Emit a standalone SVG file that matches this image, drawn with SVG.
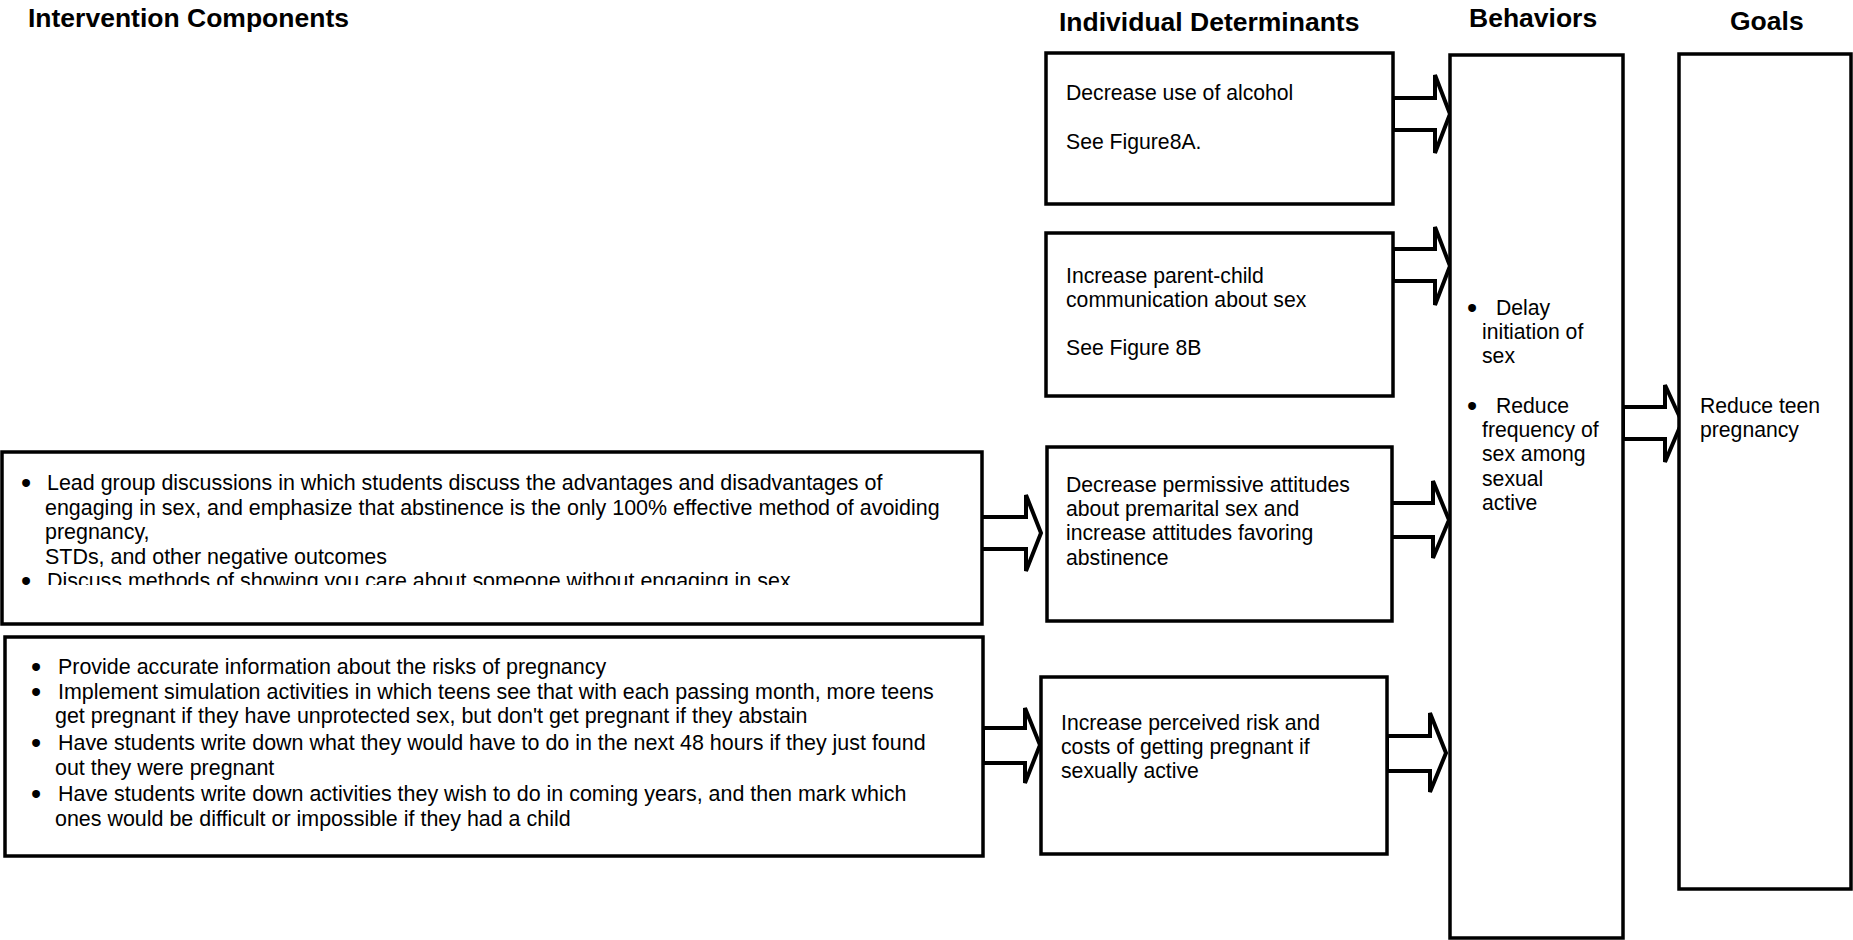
<svg xmlns="http://www.w3.org/2000/svg" width="1853" height="940" viewBox="0 0 1853 940">
  <style>
    .box { fill: #ffffff; stroke: #000000; stroke-width: 3.5; }
    .arrow { fill: #ffffff; stroke: #000000; stroke-width: 4; stroke-linejoin: miter; }
    .hdr { font-family: "Liberation Sans", Arial, sans-serif; font-weight: bold; font-size: 26.5px; fill: #000000; }
    .txt { font-family: "Liberation Sans", Arial, sans-serif; font-size: 21.2px; fill: #000000; }
    .wide { font-size: 21.45px; }
    .bul { font-family: "Liberation Sans", Arial, sans-serif; font-size: 29px; fill: #000000; }
  </style>
  <defs>
    <clipPath id="clipStrategies1">
      <rect x="3" y="454" width="977" height="131"/>
    </clipPath>
  </defs>
  <rect x="0" y="0" width="1853" height="940" fill="#ffffff"/>

  <!-- column headings -->
  <g id="headings">
    <text class="hdr" x="28" y="27">Intervention Components</text>
    <text class="hdr" x="1059" y="31">Individual Determinants</text>
    <text class="hdr" x="1469" y="27">Behaviors</text>
    <text class="hdr" x="1730" y="30">Goals</text>
  </g>

  <!-- block arrows between columns -->
  <g id="connectors">
    <path class="arrow" d="M981,517 H1026 V495 L1041,533 L1026,571 V549 H981 Z"/>
    <path class="arrow" d="M983,728 H1025 V708 L1040,745 L1025,783 V763 H983 Z"/>
    <path class="arrow" d="M1393,98 H1435 V75 L1450,114 L1435,153 V130 H1393 Z"/>
    <path class="arrow" d="M1393,249 H1435 V227 L1450,266 L1435,305 V281 H1393 Z"/>
    <path class="arrow" d="M1388,503 H1433 V481 L1449,520 L1433,558 V537 H1388 Z"/>
    <path class="arrow" d="M1387,736 H1430 V713 L1446,753 L1430,792 V771 H1387 Z"/>
    <path class="arrow" d="M1623,407 H1665 V385 L1682,422 L1665,462 V439 H1623 Z"/>
  </g>

  <!-- intervention components -->
  <g id="strategies-attitudes">
    <rect class="box" x="2" y="452" width="980" height="172"/>
    <g clip-path="url(#clipStrategies1)">
      <text class="bul" x="21" y="493">•</text>
      <text class="txt wide" x="47" y="490">Lead group discussions in which students discuss the advantages and disadvantages of</text>
      <text class="txt wide" x="45" y="514.5">engaging in sex, and emphasize that abstinence is the only 100% effective method of avoiding</text>
      <text class="txt wide" x="45" y="539">pregnancy,</text>
      <text class="txt wide" x="45" y="563.5">STDs, and other negative outcomes</text>
      <text class="bul" x="21" y="591">•</text>
      <text class="txt wide" x="47" y="588">Discuss methods of showing you care about someone without engaging in sex</text>
    </g>
  </g>

  <g id="strategies-risk">
    <rect class="box" x="5" y="637" width="978" height="219"/>
    <text class="bul" x="31" y="677">•</text>
    <text class="txt wide" x="58" y="674">Provide accurate information about the risks of pregnancy</text>
    <text class="bul" x="31" y="701.5">•</text>
    <text class="txt wide" x="58" y="698.5">Implement simulation activities in which teens see that with each passing month, more teens</text>
    <text class="txt wide" x="55" y="723">get pregnant if they have unprotected sex, but don't get pregnant if they abstain</text>
    <text class="bul" x="31" y="753">•</text>
    <text class="txt wide" x="58" y="750">Have students write down what they would have to do in the next 48 hours if they just found</text>
    <text class="txt wide" x="55" y="774.5">out they were pregnant</text>
    <text class="bul" x="31" y="804">•</text>
    <text class="txt wide" x="58" y="801">Have students write down activities they wish to do in coming years, and then mark which</text>
    <text class="txt wide" x="55" y="825.5">ones would be difficult or impossible if they had a child</text>
  </g>

  <!-- individual determinants -->
  <g id="det-alcohol">
    <rect class="box" x="1046" y="53" width="347" height="151"/>
    <text class="txt" x="1066" y="100">Decrease use of alcohol</text>
    <text class="txt" x="1066" y="149">See Figure8A.</text>
  </g>

  <g id="det-communication">
    <rect class="box" x="1046" y="233" width="347" height="163"/>
    <text class="txt" x="1066" y="283">Increase parent-child</text>
    <text class="txt" x="1066" y="307">communication about sex</text>
    <text class="txt" x="1066" y="355">See Figure 8B</text>
  </g>

  <g id="det-attitudes">
    <rect class="box" x="1047" y="447" width="345" height="174"/>
    <text class="txt" x="1066" y="492">Decrease permissive attitudes</text>
    <text class="txt" x="1066" y="516">about premarital sex and</text>
    <text class="txt" x="1066" y="540">increase attitudes favoring</text>
    <text class="txt" x="1066" y="565">abstinence</text>
  </g>

  <g id="det-risk">
    <rect class="box" x="1041" y="677" width="346" height="177"/>
    <text class="txt" x="1061" y="730">Increase perceived risk and</text>
    <text class="txt" x="1061" y="754">costs of getting pregnant if</text>
    <text class="txt" x="1061" y="778">sexually active</text>
  </g>

  <!-- behaviors -->
  <g id="behaviors">
    <rect class="box" x="1450" y="55" width="173" height="883"/>
    <text class="bul" x="1467" y="318">•</text>
    <text class="txt" x="1496" y="315">Delay</text>
    <text class="txt" x="1482" y="339">initiation of</text>
    <text class="txt" x="1482" y="363">sex</text>
    <text class="bul" x="1467" y="416">•</text>
    <text class="txt" x="1496" y="413">Reduce</text>
    <text class="txt" x="1482" y="437">frequency of</text>
    <text class="txt" x="1482" y="461">sex among</text>
    <text class="txt" x="1482" y="486">sexual</text>
    <text class="txt" x="1482" y="510">active</text>
  </g>

  <!-- goals -->
  <g id="goals">
    <rect class="box" x="1679" y="54" width="172" height="835"/>
    <text class="txt" x="1700" y="413">Reduce teen</text>
    <text class="txt" x="1700" y="437">pregnancy</text>
  </g>
</svg>
